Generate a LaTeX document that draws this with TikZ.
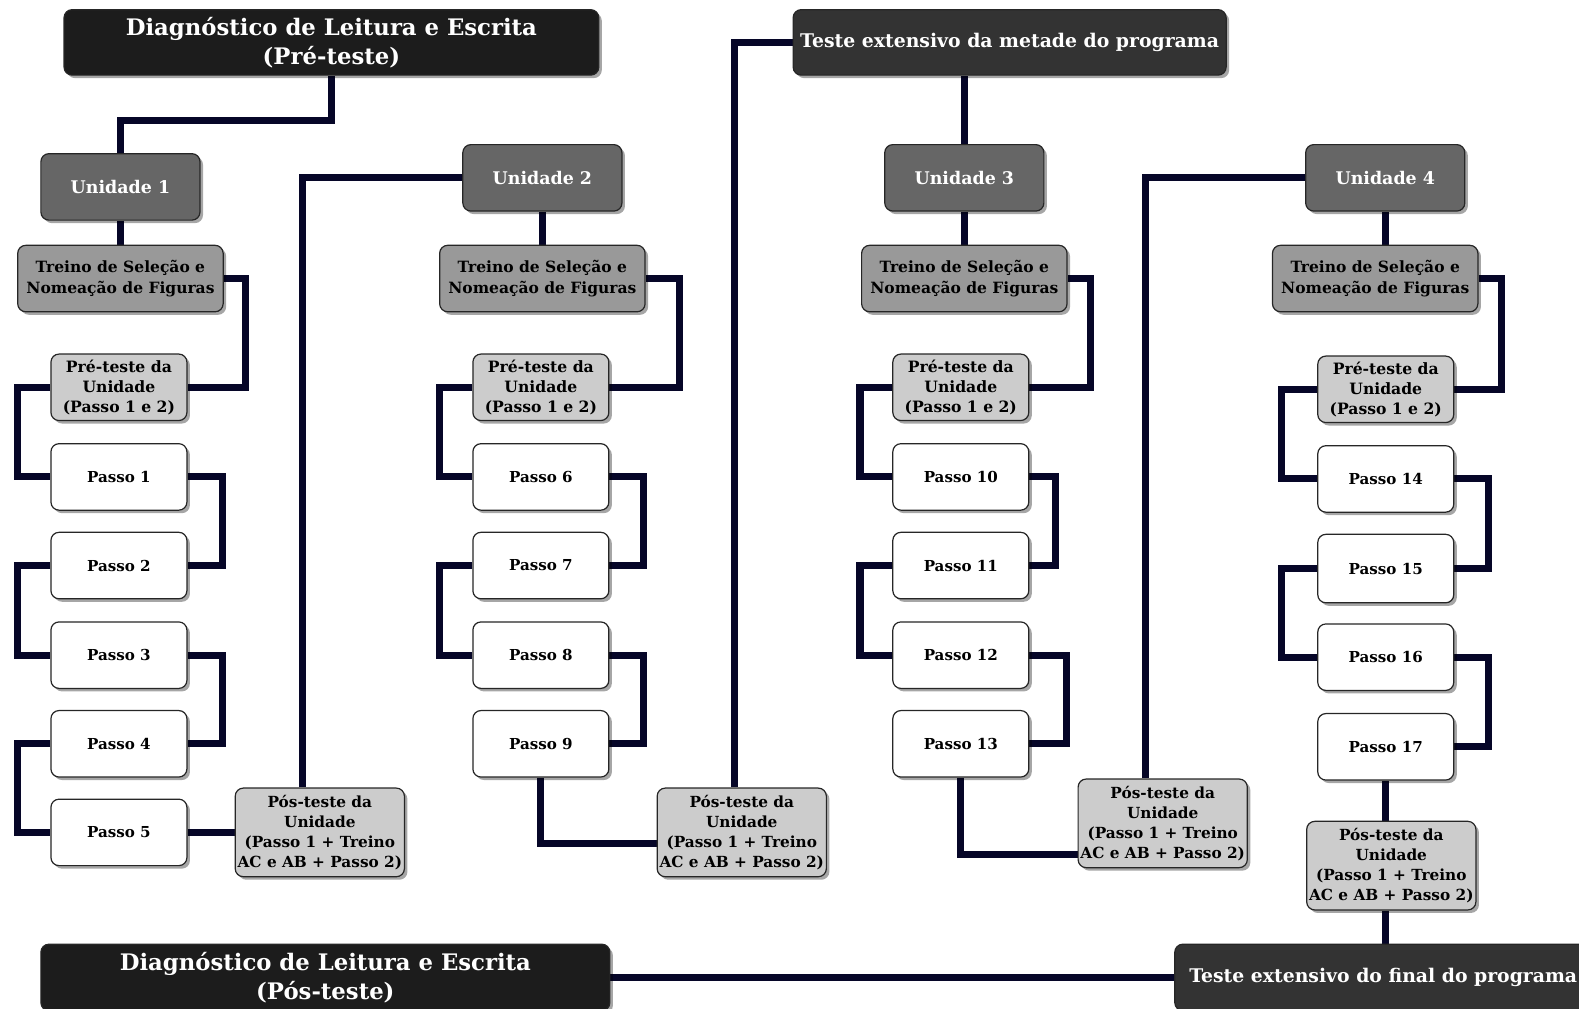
\documentclass[tikz,border=0pt]{standalone}
\usepackage{fontspec}
\setmainfont{DejaVu Serif}
\usetikzlibrary{shadows,backgrounds}
\definecolor{linkc}{RGB}{6,6,40}
\definecolor{headA}{RGB}{28,28,28}
\definecolor{headB}{RGB}{51,51,51}
\definecolor{unitc}{RGB}{102,102,102}
\definecolor{trainc}{RGB}{153,153,153}
\definecolor{testc}{RGB}{204,204,204}
\newcommand\fsz[2]{\fontsize{#1}{#2}\selectfont}
\tikzset{
  boxbase/.style={rounded corners=8pt, draw=black!85, line width=1.2pt,
    align=center, inner sep=0pt, anchor=north west, font=\bfseries,
    drop shadow={shadow xshift=3pt, shadow yshift=-3pt, opacity=.35, fill=black}},
  headA/.style={boxbase, fill=headA, text=white, font=\bfseries\fsz{22.6}{29}},
  headB/.style={boxbase, fill=headB, text=white, font=\bfseries\fsz{18.7}{24}},
  unitbox/.style={boxbase, fill=unitc, text=white, font=\bfseries\fsz{17.3}{22},
    minimum width=158pt, minimum height=66pt},
  trainbox/.style={boxbase, fill=trainc, font=\bfseries\fsz{15.4}{20},
    minimum width=204pt, minimum height=66pt},
  prebox/.style={boxbase, fill=testc, font=\bfseries\fsz{15.5}{20},
    minimum width=135pt, minimum height=66pt},
  stepbox/.style={boxbase, fill=white, font=\bfseries\fsz{15}{19},
    minimum width=135pt, minimum height=66pt},
  posbox/.style={boxbase, fill=testc, font=\bfseries\fsz{15.2}{20},
    minimum width=168pt, minimum height=88pt},
  conn/.style={draw=linkc, line width=7pt, line join=miter}
}
\begin{document}
\begin{tikzpicture}[x=1pt,y=-1pt]
\useasboundingbox (0,0) rectangle (1568,1001);

% header boxes
\node[headA, minimum width=531pt, minimum height=65pt] (dpre) at (63,9)
  {Diagnóstico de Leitura e Escrita\\(Pré-teste)};
\node[headB, minimum width=430pt, minimum height=65pt] (tm) at (787,9)
  {Teste extensivo da metade do programa};
\node[headA, minimum width=565pt, minimum height=66pt] (dpos) at (40,937)
  {Diagnóstico de Leitura e Escrita\\(Pós-teste)};
\node[headB, minimum width=414pt, minimum height=66pt] (tf) at (1166,937)
  {Teste extensivo do final do programa};

% units
\node[unitbox] (u1) at (40,152) {Unidade 1};
\node[unitbox] (u2) at (459,143) {Unidade 2};
\node[unitbox] (u3) at (878,143) {Unidade 3};
\node[unitbox] (u4) at (1296,143) {Unidade 4};

% training boxes
\node[trainbox] (tr1) at (17,243) {Treino de Seleção e\\Nomeação de Figuras};
\node[trainbox] (tr2) at (436,243) {Treino de Seleção e\\Nomeação de Figuras};
\node[trainbox] (tr3) at (855,243) {Treino de Seleção e\\Nomeação de Figuras};
\node[trainbox] (tr4) at (1263,243) {Treino de Seleção e\\Nomeação de Figuras};

% unit pre-tests
\node[prebox] (pre1) at (50,351) {Pré-teste da\\Unidade\\(Passo 1 e 2)};
\node[prebox] (pre2) at (469,351) {Pré-teste da\\Unidade\\(Passo 1 e 2)};
\node[prebox] (pre3) at (886,351) {Pré-teste da\\Unidade\\(Passo 1 e 2)};
\node[prebox] (pre4) at (1308,353) {Pré-teste da\\Unidade\\(Passo 1 e 2)};

% steps
\node[stepbox] (p1) at (50,440) {Passo 1};
\node[stepbox] (p2) at (50,528) {Passo 2};
\node[stepbox] (p3) at (50,617) {Passo 3};
\node[stepbox] (p4) at (50,705) {Passo 4};
\node[stepbox] (p5) at (50,793) {Passo 5};
\node[stepbox] (p6) at (469,440) {Passo 6};
\node[stepbox] (p7) at (469,528) {Passo 7};
\node[stepbox] (p8) at (469,617) {Passo 8};
\node[stepbox] (p9) at (469,705) {Passo 9};
\node[stepbox] (p10) at (886,440) {Passo 10};
\node[stepbox] (p11) at (886,528) {Passo 11};
\node[stepbox] (p12) at (886,617) {Passo 12};
\node[stepbox] (p13) at (886,705) {Passo 13};
\node[stepbox] (p14) at (1308,442) {Passo 14};
\node[stepbox, minimum height=68pt] (p15) at (1308,530) {Passo 15};
\node[stepbox] (p16) at (1308,619) {Passo 16};
\node[stepbox] (p17) at (1308,708) {Passo 17};

% unit post-tests
\node[posbox] (pos1) at (233,782) {Pós-teste da\\Unidade\\(Passo 1 + Treino\\AC e AB + Passo 2)};
\node[posbox] (pos2) at (652,782) {Pós-teste da\\Unidade\\(Passo 1 + Treino\\AC e AB + Passo 2)};
\node[posbox] (pos3) at (1070,773) {Pós-teste da\\Unidade\\(Passo 1 + Treino\\AC e AB + Passo 2)};
\node[posbox] (pos4) at (1297,815) {Pós-teste da\\Unidade\\(Passo 1 + Treino\\AC e AB + Passo 2)};

\begin{pgfonlayer}{background}
% unit 1
\draw[conn] (dpre.south) -- ++(0,44) -| (u1.north);
\draw[conn] (u1.south) -- (u1.south |- tr1.north);
\draw[conn] (tr1.east) -- ++(22,0) |- (pre1.east);
\draw[conn] (pre1.west) -- ++(-33,0) |- (p1.west);
\draw[conn] (p1.east) -- ++(35,0) |- (p2.east);
\draw[conn] (p2.west) -- ++(-33,0) |- (p3.west);
\draw[conn] (p3.east) -- ++(35,0) |- (p4.east);
\draw[conn] (p4.west) -- ++(-33,0) |- (p5.west);
\draw[conn] (p5.east) -- (p5.east -| pos1.west);
\draw[conn] ([xshift=-17pt]pos1.north) |- (u2.west);
% unit 2
\draw[conn] (u2.south) -- (u2.south |- tr2.north);
\draw[conn] (tr2.east) -- ++(34,0) |- (pre2.east);
\draw[conn] (pre2.west) -- ++(-33,0) |- (p6.west);
\draw[conn] (p6.east) -- ++(34,0) |- (p7.east);
\draw[conn] (p7.west) -- ++(-33,0) |- (p8.west);
\draw[conn] (p8.east) -- ++(34,0) |- (p9.east);
\draw[conn] (p9.south) |- ([yshift=-11pt]pos2.west);
\draw[conn] ([xshift=-7pt]pos2.north) |- (tm.west);
% unit 3
\draw[conn] (u3.north) -- (u3.north |- tm.south);
\draw[conn] (u3.south) -- (u3.south |- tr3.north);
\draw[conn] (tr3.east) -- ++(23,0) |- (pre3.east);
\draw[conn] (pre3.west) -- ++(-32,0) |- (p10.west);
\draw[conn] (p10.east) -- ++(26,0) |- (p11.east);
\draw[conn] (p11.west) -- ++(-32,0) |- (p12.west);
\draw[conn] (p12.east) -- ++(37,0) |- (p13.east);
\draw[conn] (p13.south) |- ([yshift=-31pt]pos3.west);
\draw[conn] ([xshift=-17pt]pos3.north) |- (u4.west);
% unit 4
\draw[conn] (u4.south) -- (u4.south |- tr4.north);
\draw[conn] (tr4.east) -- ++(23,0) |- (pre4.east);
\draw[conn] (pre4.west) -- ++(-35,0) |- (p14.west);
\draw[conn] (p14.east) -- ++(34,0) |- (p15.east);
\draw[conn] (p15.west) -- ++(-35,0) |- (p16.west);
\draw[conn] (p16.east) -- ++(34,0) |- (p17.east);
\draw[conn] (p17.south) -- (p17.south |- pos4.north);
\draw[conn] (p17.south |- pos4.south) -- (p17.south |- tf.north);
\draw[conn] (tf.west) -- (dpos.east);
\end{pgfonlayer}
\end{tikzpicture}
\end{document}
